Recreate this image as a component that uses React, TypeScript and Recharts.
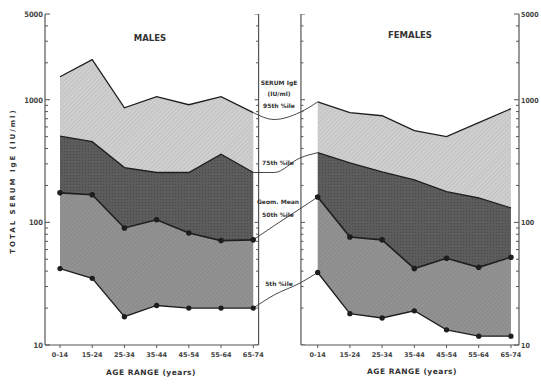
import { ComposedChart, Area, Line, Scatter, XAxis, YAxis, ReferenceLine } from "recharts";

// age bands, same for both panels
const ageGroups = ["0-14", "15-24", "25-34", "35-44", "45-54", "55-64", "65-74"];

// males (IU/ml)
const maleP95 = [1540, 2120, 860, 1060, 910, 1060, 785];
const maleP75 = [505, 455, 280, 255, 255, 360, 255];
const maleMean = [174, 168, 90, 105, 82, 71, 72];
const maleP5 = [42, 35, 17, 21, 20, 20, 20];

// females
const femaleP95 = [960, 785, 740, 560, 500, 650, 845];
const femaleP75 = [370, 305, 258, 222, 178, 158, 131];
const femaleMean = [161, 76, 72, 42, 51, 43, 52];
const femaleP5 = [39, 18, 16.6, 19, 13.3, 11.8, 11.8];

// leader lines between the panels (male 65-74 -> female 0-14)
const linkX = [6, 6.65, 7.45, 8];
const linkP95 = [785, 690, 790, 960];
const linkP75 = [255, 255, 335, 370];
const linkMean = [72, 94, 129, 161];
const linkP5 = [20, 25.6, 32, 39];

const yTicks = [10, 20, 30, 40, 50, 60, 70, 80, 90, 100, 200, 300, 400, 500, 600, 700, 800, 900, 1000, 2000, 3000, 4000, 5000];
const majorTicks = [10, 100, 1000, 5000];
const xTicks = [0, 1, 2, 3, 4, 5, 6, 8, 9, 10, 11, 12, 13, 14];

const X_MIN = -0.466;
const X_MAX = 14.25;
const INNER_L = 6.165;
const INNER_R = 7.48;
const FONT = "'DejaVu Sans', sans-serif";
const COND = "'DejaVu Sans Condensed', 'DejaVu Sans', sans-serif";
const INK = "#1e1e1e";

const maleRows = ageGroups.map((g, i) => ({
  x: i,
  p95: maleP95[i],
  p75: maleP75[i],
  mean: maleMean[i],
  p5: maleP5[i],
}));
const femaleRows = ageGroups.map((g, i) => ({
  x: i + 8,
  p95: femaleP95[i],
  p75: femaleP75[i],
  mean: femaleMean[i],
  p5: femaleP5[i],
}));
const linkRows = linkX.map((x, i) => ({
  x,
  p95: linkP95[i],
  p75: linkP75[i],
  mean: linkMean[i],
  p5: linkP5[i],
}));
const innerTicks = yTicks.flatMap((v) => [
  { x: INNER_L, v, side: -1 },
  { x: INNER_R, v, side: 1 },
]);

function LeftTick(props: any) {
  const { x, y, payload } = props;
  const major = majorTicks.includes(payload.value);
  return (
    <g>
      <line x1={x} x2={x + (major ? 5 : 3)} y1={y} y2={y} stroke="#555" />
      {major && (
        <text x={x - 2} y={y} dy={3} textAnchor="end" fontSize={7.5} fontWeight="bold" fontFamily={COND} fill="#444">
          {payload.value}
        </text>
      )}
    </g>
  );
}

function RightTick(props: any) {
  const { x, y, payload } = props;
  const major = majorTicks.includes(payload.value);
  return (
    <g>
      <line x1={x - (major ? 5 : 3)} x2={x} y1={y} y2={y} stroke="#555" />
      {major && (
        <text x={x + 2} y={y} dy={3} textAnchor="start" fontSize={7} fontWeight="bold" fontFamily={COND} fill="#444">
          {payload.value}
        </text>
      )}
    </g>
  );
}

function InnerTick(props: any) {
  const { cx, cy, payload } = props;
  const len = majorTicks.includes(payload.v) ? 4 : 2.5;
  return <line x1={cx} x2={cx + payload.side * len} y1={cy} y2={cy} stroke="#555" />;
}

function Txt({ x, y, size = 7, rotate = 0, spacing = 0, children }: any) {
  return (
    <div
      style={{
        position: "absolute",
        left: x,
        top: y,
        transform: `translate(-50%, -50%) rotate(${rotate}deg)`,
        fontFamily: FONT,
        fontWeight: "bold",
        fontSize: size,
        letterSpacing: spacing,
        color: "#333",
        whiteSpace: "nowrap",
        lineHeight: 1,
      }}
    >
      {children}
    </div>
  );
}

const bands = [
  { key: "top", lo: "p75", hi: "p95", fill: "url(#lightHatch)" },
  { key: "mid", lo: "mean", hi: "p75", fill: "url(#darkDots)" },
  { key: "low", lo: "p5", hi: "mean", fill: "url(#midHatch)" },
];
const edges = ["p95", "p75", "mean", "p5"];

export default function App() {
  return (
    <div style={{ position: "absolute", left: 0, top: 0, width: 541, height: 387, background: "#fff", overflow: "hidden" }}>
      <ComposedChart width={541} height={387} margin={{ top: 14, right: 0, bottom: 0, left: 8 }}>
        <defs>
          <pattern id="lightHatch" width="3" height="3" patternUnits="userSpaceOnUse" patternTransform="rotate(45)">
            <rect width="3" height="3" fill="#d0d0d0" />
            <line x1="0" y1="0" x2="0" y2="3" stroke="#b2b2b2" strokeWidth="1" />
          </pattern>
          <pattern id="darkDots" width="3" height="3" patternUnits="userSpaceOnUse">
            <rect width="3" height="3" fill="#5c5c5c" />
            <rect x="1" y="1" width="1" height="1" fill="#484848" />
          </pattern>
          <pattern id="midHatch" width="3" height="3" patternUnits="userSpaceOnUse" patternTransform="rotate(45)">
            <rect width="3" height="3" fill="#939393" />
            <line x1="0" y1="0" x2="0" y2="3" stroke="#7d7d7d" strokeWidth="1" />
          </pattern>
        </defs>

        <XAxis
          dataKey="x"
          type="number"
          domain={[X_MIN, X_MAX]}
          allowDataOverflow
          ticks={xTicks}
          interval={0}
          tickFormatter={(v: number) => ageGroups[v < 7 ? v : v - 8]}
          axisLine={false}
          tickLine={{ stroke: "#555" }}
          tickSize={3}
          tickMargin={4}
          height={42}
          tick={{ fontSize: 6.5, fontWeight: "bold", fontFamily: FONT, fill: "#444" }}
        />
        <YAxis
          scale="log"
          domain={[10, 5000]}
          allowDataOverflow
          ticks={yTicks}
          interval={0}
          width={37}
          tickSize={0}
          tickMargin={0}
          tickLine={false}
          tick={LeftTick}
          axisLine={{ stroke: "#555", strokeWidth: 1.2 }}
        />
        <YAxis
          yAxisId="r"
          orientation="right"
          scale="log"
          domain={[10, 5000]}
          allowDataOverflow
          ticks={yTicks}
          interval={0}
          width={22}
          tickSize={0}
          tickMargin={0}
          tickLine={false}
          tick={RightTick}
          axisLine={{ stroke: "#555", strokeWidth: 1.2 }}
        />

        {[maleRows, femaleRows].map((rows, n) =>
          bands.map((b) => (
            <Area
              key={`${n}-${b.key}`}
              data={rows}
              dataKey={(d: any) => [d[b.lo], d[b.hi]]}
              type="linear"
              fill={b.fill}
              fillOpacity={1}
              stroke="none"
              isAnimationActive={false}
            />
          ))
        )}

        <ReferenceLine x={INNER_L} stroke="#555" strokeWidth={1.2} />
        <ReferenceLine x={INNER_R} stroke="#555" strokeWidth={1.2} />
        <ReferenceLine segment={[{ x: X_MIN, y: 10 }, { x: INNER_L, y: 10 }]} stroke="#555" strokeWidth={1.2} ifOverflow="visible" />
        <ReferenceLine segment={[{ x: INNER_R, y: 10 }, { x: X_MAX, y: 10 }]} stroke="#555" strokeWidth={1.2} ifOverflow="visible" />
        <Scatter data={innerTicks} dataKey="v" shape={InnerTick} isAnimationActive={false} />

        {[maleRows, femaleRows].map((rows, n) =>
          edges.map((k) => (
            <Line
              key={`${n}-${k}`}
              data={rows}
              dataKey={k}
              type="linear"
              stroke={INK}
              strokeWidth={k === "mean" ? 1.6 : 1.3}
              dot={k === "mean" || k === "p5" ? { r: 2, fill: INK, stroke: INK } : false}
              isAnimationActive={false}
            />
          ))
        )}
        {edges.map((k) => (
          <Line
            key={`link-${k}`}
            data={linkRows}
            dataKey={k}
            type="monotone"
            stroke="#333"
            strokeWidth={0.9}
            dot={false}
            isAnimationActive={false}
          />
        ))}
      </ComposedChart>

      <Txt x={150} y={38} size={8.5}>MALES</Txt>
      <Txt x={410} y={35} size={8.5}>FEMALES</Txt>
      <Txt x={151} y={373} size={7.5} spacing={0.5}>AGE RANGE (years)</Txt>
      <Txt x={412} y={372} size={7.5} spacing={0.5}>AGE RANGE (years)</Txt>
      <Txt x={13} y={181} size={7} rotate={-90} spacing={2}>TOTAL SERUM IgE (IU/ml)</Txt>

      <Txt x={279} y={83} size={6}>SERUM IgE</Txt>
      <Txt x={279} y={94} size={6}>(IU/ml)</Txt>
      <Txt x={279} y={106} size={6}>95th %ile</Txt>
      <Txt x={278} y={163} size={6}>75th %ile</Txt>
      <Txt x={278} y={202} size={6}>Geom. Mean</Txt>
      <Txt x={278} y={215} size={6}>50th %ile</Txt>
      <Txt x={279} y={284} size={6}>5th %ile</Txt>
    </div>
  );
}
